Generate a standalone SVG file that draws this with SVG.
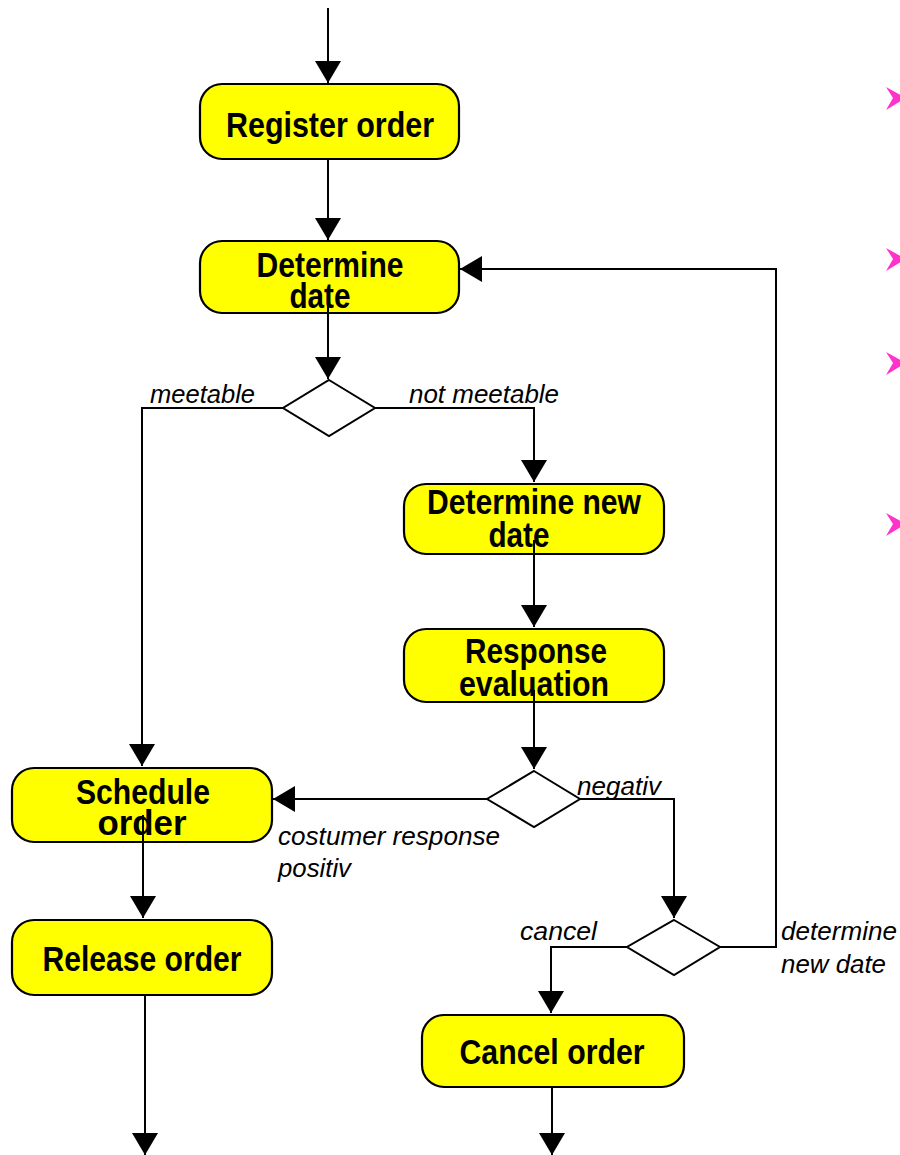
<svg xmlns="http://www.w3.org/2000/svg" width="900" height="1155" viewBox="0 0 900 1155">
<defs>
<marker id="arr" markerUnits="userSpaceOnUse" markerWidth="24" markerHeight="28" refX="22" refY="13" orient="auto" viewBox="0 0 24 28">
<path d="M0,0 L22,13 L0,26 z" fill="#000"/>
</marker>
<style>
.box{fill:#ffff00;stroke:#000;stroke-width:2.2}
.dia{fill:#fff;stroke:#000;stroke-width:2}
.t{font-family:"Liberation Sans Narrow","Liberation Sans",Arial,sans-serif;font-weight:bold;font-size:35px;fill:#000;text-anchor:middle}
.l{font-family:"Liberation Sans Narrow","Liberation Sans",Arial,sans-serif;font-style:italic;font-size:26px;fill:#000}
.c{fill:none;stroke:#000;stroke-width:2;marker-end:url(#arr)}
.b{fill:#ff33cc}
</style>
</defs>
<rect width="900" height="1155" fill="#fff"/>
<g id="bullets">
<polygon class="b" points="886,87 906,98 886,110 893,98"/>
<polygon class="b" points="886,248 906,259 886,271 893,259"/>
<polygon class="b" points="886,352 906,363 886,375 893,363"/>
<polygon class="b" points="886,513 906,524 886,536 893,524"/>
</g>
<g id="register-order"><rect class="box" x="200" y="84" width="259" height="75" rx="22"/><text class="t" x="330" y="137" textLength="208" lengthAdjust="spacingAndGlyphs">Register order</text></g>
<g id="determine-date"><rect class="box" x="200" y="241" width="259" height="72" rx="22"/><text class="t" x="330" y="277" textLength="147" lengthAdjust="spacingAndGlyphs">Determine</text><text class="t" x="320" y="308" textLength="61" lengthAdjust="spacingAndGlyphs">date</text></g>
<g id="decision-1"><polygon class="dia" points="329,380 375,408 329,436 283,408"/></g>
<g id="determine-new-date"><rect class="box" x="404" y="484" width="260" height="70" rx="22"/><text class="t" x="534" y="514" textLength="214" lengthAdjust="spacingAndGlyphs">Determine new</text><text class="t" x="519" y="547" textLength="61" lengthAdjust="spacingAndGlyphs">date</text></g>
<g id="response-evaluation"><rect class="box" x="404" y="629" width="260" height="73" rx="22"/><text class="t" x="536" y="663" textLength="142" lengthAdjust="spacingAndGlyphs">Response</text><text class="t" x="534" y="696" textLength="150" lengthAdjust="spacingAndGlyphs">evaluation</text></g>
<g id="decision-2"><polygon class="dia" points="534,771 580,799 534,827 487,799"/></g>
<g id="schedule-order"><rect class="box" x="12" y="768" width="260" height="74" rx="22"/><text class="t" x="143" y="804" textLength="134" lengthAdjust="spacingAndGlyphs">Schedule</text><text class="t" x="142" y="835" textLength="89" lengthAdjust="spacingAndGlyphs">order</text></g>
<g id="release-order"><rect class="box" x="12" y="920" width="260" height="75" rx="22"/><text class="t" x="142" y="971" textLength="199" lengthAdjust="spacingAndGlyphs">Release order</text></g>
<g id="decision-3"><polygon class="dia" points="674,920 720,947 674,975 627,947"/></g>
<g id="cancel-order"><rect class="box" x="422" y="1015" width="262" height="72" rx="22"/><text class="t" x="552" y="1064" textLength="185" lengthAdjust="spacingAndGlyphs">Cancel order</text></g>
<g id="connectors">
<path class="c" d="M328,8 V83"/>
<path class="c" d="M328,159 V240"/>
<path class="c" d="M328,296 V379"/>
<path class="c" d="M283,408 H142 V766"/>
<path class="c" d="M375,408 H534 V482"/>
<path class="c" d="M534,540 V627"/>
<path class="c" d="M534,690 V769"/>
<path class="c" d="M487,799 H273"/>
<path class="c" d="M580,799 H674 V918"/>
<path class="c" d="M720,947 H776 V269 H460"/>
<path class="c" d="M627,947 H551 V1013"/>
<path class="c" d="M552,1087 V1155"/>
<path class="c" d="M143,815 V918"/>
<path class="c" d="M145,995 V1155"/>
<text class="l" x="150" y="403" textLength="105" lengthAdjust="spacingAndGlyphs">meetable</text>
<text class="l" x="409" y="403" textLength="150" lengthAdjust="spacingAndGlyphs">not meetable</text>
<text class="l" x="577" y="795" textLength="84" lengthAdjust="spacingAndGlyphs">negativ</text>
<text class="l" x="278" y="845" textLength="222" lengthAdjust="spacingAndGlyphs">costumer response</text>
<text class="l" x="278" y="877" textLength="73" lengthAdjust="spacingAndGlyphs">positiv</text>
<text class="l" x="520" y="940" textLength="77" lengthAdjust="spacingAndGlyphs">cancel</text>
<text class="l" x="781" y="940" textLength="116" lengthAdjust="spacingAndGlyphs">determine</text>
<text class="l" x="781" y="973" textLength="105" lengthAdjust="spacingAndGlyphs">new date</text>
</g>
</svg>
